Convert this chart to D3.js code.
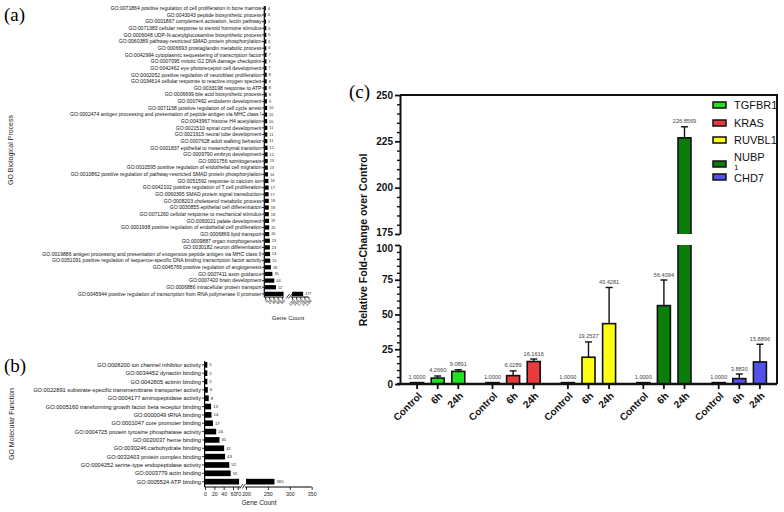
<!DOCTYPE html>
<html><head><meta charset="utf-8">
<script src="https://cdn.jsdelivr.net/npm/d3@7"></script>
<style>body{margin:0;background:#fff}svg{display:block}text{font-family:"Liberation Sans",Arial,sans-serif}text.serif{font-family:"Liberation Serif","Times New Roman",serif}</style>
</head><body>
<svg id="c" width="784" height="512"></svg>
<script>
// ---------- DATA ----------
const bpTerms = [
"GO:0071864 positive regulation of cell proliferation in bone marrow",
"GO:0043043 peptide biosynthetic process",
"GO:0001867 complement activation, lectin pathway",
"GO:0071383 cellular response to steroid hormone stimulus",
"GO:0006048 UDP-N-acetylglucosamine biosynthetic process",
"GO:0060389 pathway-restricted SMAD protein phosphorylation",
"GO:0006693 prostaglandin metabolic process",
"GO:0042994 cytoplasmic sequestering of transcription factor",
"GO:0007095 mitotic G2 DNA damage checkpoint",
"GO:0042462 eye photoreceptor cell development",
"GO:0002052 positive regulation of neuroblast proliferation",
"GO:0034614 cellular response to reactive oxygen species",
"GO:0033198 response to ATP",
"GO:0006699 bile acid biosynthetic process",
"GO:0007492 endoderm development",
"GO:0071158 positive regulation of cell cycle arrest",
"GO:0002474 antigen processing and presentation of peptide antigen via MHC class I",
"GO:0043967 histone H4 acetylation",
"GO:0021510 spinal cord development",
"GO:0021915 neural tube development",
"GO:0007628 adult walking behavior",
"GO:0001837 epithelial to mesenchymal transition",
"GO:0009790 embryo development",
"GO:0001756 somitogenesis",
"GO:0010595 positive regulation of endothelial cell migration",
"GO:0010862 positive regulation of pathway-restricted SMAD protein phosphorylation",
"GO:0051592 response to calcium ion",
"GO:0042102 positive regulation of T cell proliferation",
"GO:0060395 SMAD protein signal transduction",
"GO:0008203 cholesterol metabolic process",
"GO:0030855 epithelial cell differentiation",
"GO:0071260 cellular response to mechanical stimulus",
"GO:0060021 palate development",
"GO:0001938 positive regulation of endothelial cell proliferation",
"GO:0006869 lipid transport",
"GO:0009887 organ morphogenesis",
"GO:0030182 neuron differentiation",
"GO:0019886 antigen processing and presentation of exogenous peptide antigen via MHC class II",
"GO:0051091 positive regulation of sequence-specific DNA binding transcription factor activity",
"GO:0045766 positive regulation of angiogenesis",
"GO:0007411 axon guidance",
"GO:0007420 brain development",
"GO:0006886 intracellular protein transport",
"GO:0045944 positive regulation of transcription from RNA polymerase II promoter"];
const bpCounts = [4,4,5,6,6,6,6,7,7,7,8,8,8,8,9,10,10,10,11,11,11,12,12,13,13,14,16,17,17,18,18,18,19,20,20,23,23,24,25,28,35,44,52,177];
const bpTicksLow = [0,20,40,60,80];
const bpTicksHigh = [150,160,170,180,190];

const mfTerms = [
"GO:0008200 ion channel inhibitor activity",
"GO:0034452 dynactin binding",
"GO:0042805 actinin binding",
"GO:0022891 substrate-specific transmembrane transporter activity",
"GO:0004177 aminopeptidase activity",
"GO:0005160 transforming growth factor beta receptor binding",
"GO:0000049 tRNA binding",
"GO:0001047 core promoter binding",
"GO:0004725 protein tyrosine phosphatase activity",
"GO:0020037 heme binding",
"GO:0030246 carbohydrate binding",
"GO:0032403 protein complex binding",
"GO:0004252 serine-type endopeptidase activity",
"GO:0003779 actin binding",
"GO:0005524 ATP binding"];
const mfCounts = [5,5,5,6,8,13,14,17,24,31,41,43,52,55,265];
const mfTicksLow = [0,20,40,60,70];
const mfTicksHigh = [200,250,300,350];

const genes = ["TGFBR1","KRAS","RUVBL1","NUBP1","CHD7"];
const conditions = ["Control","6h","24h"];
const foldValues = [
  [1.0000, 4.2660, 9.0891],
  [1.0000, 6.0289, 16.1616],
  [1.0000, 19.2537, 43.4281],
  [1.0000, 56.4094, 226.8569],
  [1.0000, 3.8830, 15.8896]];
const foldErrors = [
  [0, 1.5, 1.2],
  [0, 3.4, 1.8],
  [0, 11.0, 26.0],
  [0, 18.4, 6.0],
  [0, 3.3, 12.7]];
const geneColors = ["#22e022","#e83b3b","#ffff10","#0b7d0b","#5252ea"];
const lowTicks = [0,25,50,75,100];
const highTicks = [175,200,225,250];

// ---------- SETUP ----------
const svg = d3.select("#c");

// ================= PANEL (a) =================
(function(){
  const g = svg.append("g");
  const y = d3.scaleBand(bpTerms, [6.2, 296]).paddingInner(0.36);
  const x1 = d3.scaleLinear([0, 90], [265, 284]);
  const x2 = d3.scaleLinear([150, 190], [292, 308.5]);
  const axY = 297;
  g.append("text").attr("class","serif").attr("x",4).attr("y",21).attr("font-size",19).text("(a)");
  bpCounts.forEach((v,i)=>{
    const yy = y(bpTerms[i]);
    const end1 = v > 90 ? x1(88) : x1(v);
    g.append("rect").attr("x",265).attr("y",yy).attr("width",end1-265).attr("height",y.bandwidth()).attr("fill","#000");
    let endX = end1;
    if (v > 90) {
      g.append("rect").attr("x",x2(150)).attr("y",yy).attr("width",x2(v)-x2(150)).attr("height",y.bandwidth()).attr("fill","#000");
      endX = x2(v);
    }
    g.append("text").attr("x",endX+2).attr("y",yy+y.bandwidth()/2).attr("dy","0.35em")
      .attr("font-size",3.8).attr("fill","#222").text(v);
    g.append("text").attr("x",261.5).attr("y",yy+y.bandwidth()/2).attr("dy","0.35em")
      .attr("text-anchor","end").attr("font-size",5.1).attr("fill","#111").text(bpTerms[i]);
    g.append("line").attr("x1",262).attr("x2",264).attr("y1",yy+y.bandwidth()/2).attr("y2",yy+y.bandwidth()/2).attr("stroke","#000").attr("stroke-width",0.8);
  });
  g.append("line").attr("x1",264.3).attr("x2",264.3).attr("y1",6).attr("y2",axY).attr("stroke","#000").attr("stroke-width",1.2);
  const ax1 = g.append("g").attr("transform",`translate(0,${axY})`)
    .call(d3.axisBottom(x1).tickValues(bpTicksLow).tickSize(2.5));
  const ax2 = g.append("g").attr("transform",`translate(0,${axY})`)
    .call(d3.axisBottom(x2).tickValues(bpTicksHigh).tickSize(2.5));
  [ax1,ax2].forEach(a=>{
    a.select(".domain").attr("d",null);
    a.selectAll(".tick line").attr("stroke-width",0.8);
    a.selectAll(".tick text").attr("font-size",4.2).attr("text-anchor","end")
      .attr("transform","rotate(-45)").attr("dx","-0.2em").attr("dy","0.5em").attr("y",3).attr("x",0);
  });
  g.append("line").attr("x1",264.3).attr("x2",x1(90)).attr("y1",axY).attr("y2",axY).attr("stroke","#000").attr("stroke-width",1);
  g.append("line").attr("x1",x2(150)-1).attr("x2",x2(190)).attr("y1",axY).attr("y2",axY).attr("stroke","#000").attr("stroke-width",1);
  g.append("line").attr("x1",286).attr("x2",289.5).attr("y1",axY+1.5).attr("y2",axY-3).attr("stroke","#000").attr("stroke-width",0.8);
  g.append("line").attr("x1",288.5).attr("x2",292).attr("y1",axY+1.5).attr("y2",axY-3).attr("stroke","#000").attr("stroke-width",0.8);
  g.append("text").attr("x",288).attr("y",320).attr("text-anchor","middle").attr("font-size",6).attr("fill","#222").text("Gene Count");
  g.append("text").attr("transform","translate(13,150) rotate(-90)").attr("text-anchor","middle").attr("font-size",7).attr("fill","#222").text("GO Biological Process");
})();

// ================= PANEL (b) =================
(function(){
  const g = svg.append("g");
  const y = d3.scaleBand(mfTerms, [362, 484.5]).paddingInner(0.32);
  const x1 = d3.scaleLinear([0, 75], [205, 240]);
  const x2 = d3.scaleLinear([200, 350], [246, 311.7]);
  const axY = 487;
  g.append("text").attr("class","serif").attr("x",4).attr("y",372).attr("font-size",19).text("(b)");
  mfCounts.forEach((v,i)=>{
    const yy = y(mfTerms[i]);
    const end1 = v > 75 ? x1(73) : x1(v);
    g.append("rect").attr("x",205).attr("y",yy).attr("width",end1-205).attr("height",y.bandwidth()).attr("fill","#000");
    let endX = end1;
    if (v > 75) {
      g.append("rect").attr("x",x2(200)).attr("y",yy).attr("width",x2(v)-x2(200)).attr("height",y.bandwidth()).attr("fill","#000");
      endX = x2(v);
    }
    g.append("text").attr("x",endX+2).attr("y",yy+y.bandwidth()/2).attr("dy","0.35em")
      .attr("font-size",4.3).attr("fill","#222").text(v);
    g.append("text").attr("x",201).attr("y",yy+y.bandwidth()/2).attr("dy","0.35em")
      .attr("text-anchor","end").attr("font-size",5.7).attr("fill","#111").text(mfTerms[i]);
    g.append("line").attr("x1",202).attr("x2",204.5).attr("y1",yy+y.bandwidth()/2).attr("y2",yy+y.bandwidth()/2).attr("stroke","#000").attr("stroke-width",0.8);
  });
  g.append("line").attr("x1",204.6).attr("x2",204.6).attr("y1",361).attr("y2",axY).attr("stroke","#000").attr("stroke-width",1.2);
  const ax1 = g.append("g").attr("transform",`translate(0,${axY})`)
    .call(d3.axisBottom(x1).tickValues(mfTicksLow).tickSize(3));
  const ax2 = g.append("g").attr("transform",`translate(0,${axY})`)
    .call(d3.axisBottom(x2).tickValues(mfTicksHigh).tickSize(3));
  [ax1,ax2].forEach(a=>{
    a.select(".domain").attr("d",null);
    a.selectAll(".tick line").attr("stroke-width",0.8);
    a.selectAll(".tick text").attr("font-size",5.2).attr("fill","#222").attr("y",5);
  });
  g.append("line").attr("x1",204.6).attr("x2",x1(75)).attr("y1",axY).attr("y2",axY).attr("stroke","#000").attr("stroke-width",1);
  g.append("line").attr("x1",x2(200)-1).attr("x2",x2(350)).attr("y1",axY).attr("y2",axY).attr("stroke","#000").attr("stroke-width",1);
  g.append("line").attr("x1",239.8).attr("x2",242.8).attr("y1",axY+1.5).attr("y2",axY-3).attr("stroke","#000").attr("stroke-width",0.8);
  g.append("line").attr("x1",242.3).attr("x2",245.3).attr("y1",axY+1.5).attr("y2",axY-3).attr("stroke","#000").attr("stroke-width",0.8);
  g.append("text").attr("x",259).attr("y",505).attr("text-anchor","middle").attr("font-size",6.5).attr("fill","#222").text("Gene Count");
  g.append("text").attr("transform","translate(14,424) rotate(-90)").attr("text-anchor","middle").attr("font-size",7).attr("fill","#222").text("GO Molecular Function");
})();

// ================= PANEL (c) =================
(function(){
  const g = svg.append("g");
  const L = 400, R = 777, T = 95, B = 384;
  const yLow = d3.scaleLinear([0,100],[B,245]);
  const yHigh = d3.scaleLinear([175,250],[234,T]);
  const xOuter = d3.scaleBand(genes,[L,R]);
  const xInner = d3.scaleBand(conditions,[0,xOuter.bandwidth()]).paddingInner(0.37).paddingOuter(0.515);
  const yOf = v => v > 100 ? yHigh(v) : yLow(v);

  g.append("text").attr("class","serif").attr("x",349).attr("y",98).attr("font-size",19).text("(c)");

  genes.forEach((gn,gi)=>{
    conditions.forEach((cd,ci)=>{
      const v = foldValues[gi][ci], e = foldErrors[gi][ci];
      const x0 = xOuter(gn) + xInner(cd), w = xInner.bandwidth(), cx = x0 + w/2;
      const col = geneColors[gi];
      if (v > 100) {
        g.append("rect").attr("x",x0).attr("y",yLow(100)).attr("width",w).attr("height",B-yLow(100)).attr("fill",col);
        g.append("path").attr("d",`M${x0},${yLow(100)}V${B}M${x0+w},${yLow(100)}V${B}`).attr("stroke","#111").attr("stroke-width",1.6).attr("fill","none");
        g.append("rect").attr("x",x0).attr("y",yHigh(v)).attr("width",w).attr("height",yHigh(175)-yHigh(v)).attr("fill",col);
        g.append("path").attr("d",`M${x0},${yHigh(175)}V${yHigh(v)}H${x0+w}V${yHigh(175)}`).attr("stroke","#111").attr("stroke-width",1.6).attr("fill","none");
      } else {
        g.append("rect").attr("x",x0).attr("y",yLow(v)).attr("width",w).attr("height",Math.max(0.1,B-yLow(v)))
          .attr("fill",col).attr("stroke","#111").attr("stroke-width",1.6);
      }
      const top = yOf(v + e);
      if (e > 0) {
        g.append("line").attr("x1",cx).attr("x2",cx).attr("y1",yOf(v)).attr("y2",top).attr("stroke","#111").attr("stroke-width",1.4);
        g.append("line").attr("x1",cx-3.5).attr("x2",cx+3.5).attr("y1",top).attr("y2",top).attr("stroke","#111").attr("stroke-width",1.4);
      }
      g.append("text").attr("x",cx).attr("y",top-3.5).attr("text-anchor","middle").attr("font-size",5.6).attr("fill","#444").text(v.toFixed(4));
      g.append("line").attr("x1",cx).attr("x2",cx).attr("y1",B).attr("y2",B+5).attr("stroke","#111").attr("stroke-width",1.8);
      g.append("text").attr("transform",`translate(${cx+3},${B+10}) rotate(-45)`).attr("text-anchor","end")
        .attr("dy","0.35em").attr("font-size",10).attr("font-weight","bold").attr("fill","#111").text(cd);
    });
  });

  g.append("path").attr("d",`M${L},${T}H${R}V${B}`).attr("fill","none").attr("stroke","#111").attr("stroke-width",2);
  g.append("line").attr("x1",L-3).attr("x2",R).attr("y1",B).attr("y2",B).attr("stroke","#111").attr("stroke-width",2.4);

  const minorLow = d3.range(0,101,5).filter(v=>!lowTicks.includes(v));
  const minorHigh = d3.range(175,251,5).filter(v=>!highTicks.includes(v));
  function styleAxis(a){
    a.select(".domain").attr("stroke-width",2).attr("stroke","#111");
    a.selectAll(".tick line").attr("stroke-width",1.8).attr("stroke","#111");
    a.selectAll(".tick text").attr("font-size",10).attr("font-weight","bold").attr("fill","#111");
  }
  const aLow = g.append("g").attr("transform",`translate(${L},0)`).call(d3.axisLeft(yLow).tickValues(lowTicks).tickSize(5).tickSizeOuter(0).tickPadding(2));
  styleAxis(aLow);
  const aHigh = g.append("g").attr("transform",`translate(${L},0)`).call(d3.axisLeft(yHigh).tickValues(highTicks).tickSize(5).tickSizeOuter(0).tickPadding(2));
  styleAxis(aHigh);
  g.append("g").attr("transform",`translate(${L},0)`).call(d3.axisLeft(yLow).tickValues(minorLow).tickSize(3).tickFormat(""))
    .call(a=>{a.select(".domain").remove(); a.selectAll("line").attr("stroke-width",1.4).attr("stroke","#111");});
  g.append("g").attr("transform",`translate(${L},0)`).call(d3.axisLeft(yHigh).tickValues(minorHigh).tickSize(3).tickFormat(""))
    .call(a=>{a.select(".domain").remove(); a.selectAll("line").attr("stroke-width",1.4).attr("stroke","#111");});
  aLow.selectAll(".tick text").filter(d=>d===100).attr("dy","0.6em");
  aHigh.selectAll(".tick text").filter(d=>d===175).attr("dy","0.1em");

  g.append("text").attr("transform","translate(367,240) rotate(-90)").attr("text-anchor","middle")
    .attr("font-size",10.5).attr("font-weight","bold").attr("fill","#111").text("Relative Fold-Change over Control");

  const legY = [105,123,140,164,177];
  genes.forEach((gn,i)=>{
    g.append("rect").attr("x",713).attr("y",legY[i]-3).attr("width",13).attr("height",6)
      .attr("fill",geneColors[i]).attr("stroke","#111").attr("stroke-width",1.5);
  });
  const legText = (t,yy)=>g.append("text").attr("x",734).attr("y",yy).attr("dy","0.35em").attr("font-size",11).attr("fill","#111").text(t);
  legText(genes[0],105); legText(genes[1],123); legText(genes[2],140);
  legText(genes[3].slice(0,4),157.5); legText(genes[3].slice(4),167).attr("font-size",8);
  legText(genes[4],178.5);
})();
</script>
</body></html>
